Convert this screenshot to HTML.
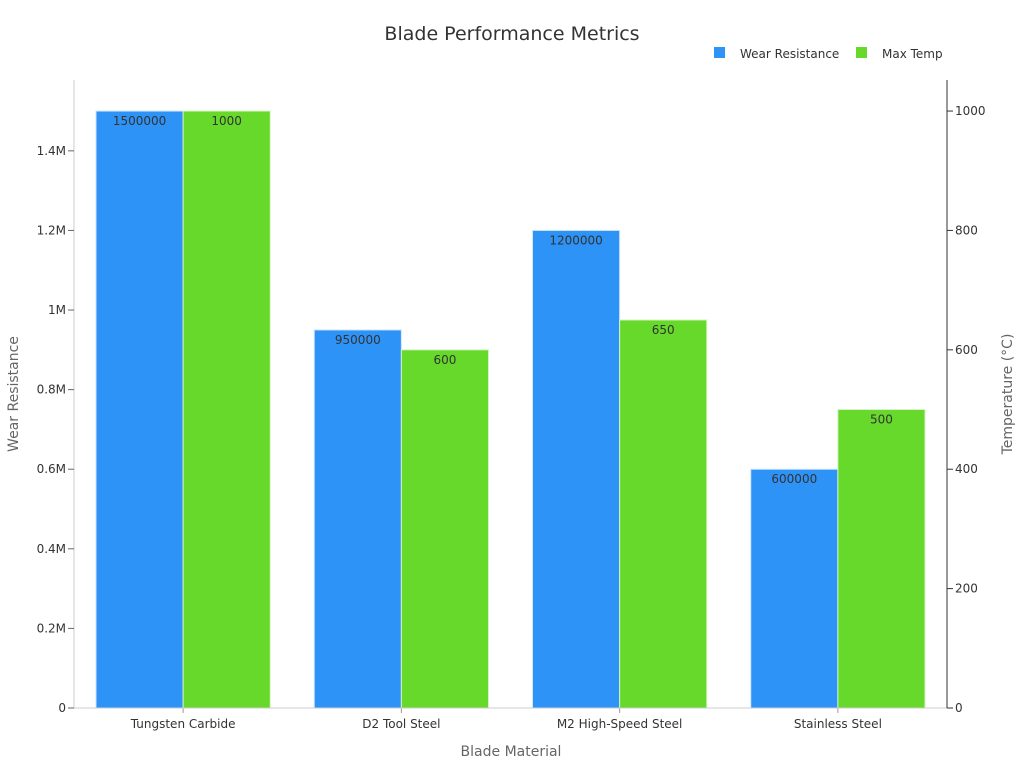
<!DOCTYPE html>
<html><head><meta charset="utf-8"><style>
body{margin:0;background:#fff}
svg{font-family:"DejaVu Sans","Liberation Sans",sans-serif}
</style></head><body>
<svg id="c" width="1024" height="768" xmlns="http://www.w3.org/2000/svg">
<text x="512" y="40" text-anchor="middle" font-size="19" fill="#333">Blade Performance Metrics</text>
<g>
<rect x="714" y="47" width="11" height="11" fill="#2e93f7"/>
<text x="740" y="58" font-size="12" fill="#333">Wear Resistance</text>
<rect x="856" y="47" width="11" height="11" fill="#66d92a"/>
<text x="882" y="58" font-size="12" fill="#333">Max Temp</text>
</g>
<g id="plot"></g>
<text x="511" y="756" text-anchor="middle" font-size="14" fill="#666">Blade Material</text>
<text transform="translate(18,394) rotate(-90)" text-anchor="middle" font-size="14" fill="#666">Wear Resistance</text>
<text transform="translate(1012,394) rotate(-90)" text-anchor="middle" font-size="14" fill="#666">Temperature (°C)</text>
</svg>
<script>
const categories=["Tungsten Carbide","D2 Tool Steel","M2 High-Speed Steel","Stainless Steel"];
const wearValues=[1500000,950000,1200000,600000];
const tempValues=[1000,600,650,500];
const leftTicks=[0,200000,400000,600000,800000,1000000,1200000,1400000];
const leftTickLabels=["0","0.2M","0.4M","0.6M","0.8M","1M","1.2M","1.4M"];
const rightTicks=[0,200,400,600,800,1000];

const NS="http://www.w3.org/2000/svg";
const L=74,R=947,B=708,T=80;
const leftMax=Math.max(...wearValues)*1.052, rightMax=Math.max(...tempValues)*1.052;
const yL=v=>B-(v/leftMax)*(B-T);
const yR=v=>B-(v/rightMax)*(B-T);
const band=(R-L)/categories.length, pad=22, bw=(band-2*pad)/2;
const xB=i=>L+i*band;
const g=document.getElementById('plot');
function mk(t,a,txt){const e=document.createElementNS(NS,t);for(const k in a)e.setAttribute(k,a[k]);if(txt!=null)e.textContent=txt;g.appendChild(e);return e;}

categories.forEach((c,i)=>{
  const x0=xB(i)+pad;
  let r=mk('rect',{x:x0,y:yL(wearValues[i]),width:bw,height:B-yL(wearValues[i]),fill:'#2e93f7',stroke:'#cfe6fb','stroke-width':1});
  
  
  r=mk('rect',{x:x0+bw,y:yR(tempValues[i]),width:bw,height:B-yR(tempValues[i]),fill:'#66d92a',stroke:'#d6f2c4','stroke-width':1});
  
  
  let t=mk('text',{x:x0+bw/2,y:yL(wearValues[i])+14,'text-anchor':'middle','font-size':12,fill:'#333'},String(wearValues[i]));
  
  
  t=mk('text',{x:x0+bw*1.5,y:yR(tempValues[i])+14,'text-anchor':'middle','font-size':12,fill:'#333'},String(tempValues[i]));
  
  
  const cx=xB(i)+band/2;
  let tk=mk('line',{x1:cx,x2:cx,y1:B,y2:B+5,stroke:'#999'});
  
  
  t=mk('text',{x:cx,y:B+20,'text-anchor':'middle','font-size':12,fill:'#333'},c);
  
  
});
let a=mk('line',{x1:L,x2:L,y1:T,y2:B,stroke:'#ccc'});


a=mk('line',{x1:L,x2:R,y1:B,y2:B,stroke:'#ccc'});


a=mk('line',{x1:R,x2:R,y1:T,y2:B,stroke:'#333'});


leftTicks.forEach((v,i)=>{
  const y=yL(v);
  let l=mk('line',{x1:L-6,x2:L,y1:y,y2:y,stroke:'#666'});
  
  
  let t=mk('text',{x:L-8,y:y+4,'text-anchor':'end','font-size':12,fill:'#333'},leftTickLabels[i]);
  
  
});
rightTicks.forEach(v=>{
  const y=yR(v);
  let l=mk('line',{x1:R,x2:R+6,y1:y,y2:y,stroke:'#333'});
  
  
  let t=mk('text',{x:R+8,y:y+4,'text-anchor':'start','font-size':12,fill:'#333'},String(v));
  
  
});
</script>
</body></html>
